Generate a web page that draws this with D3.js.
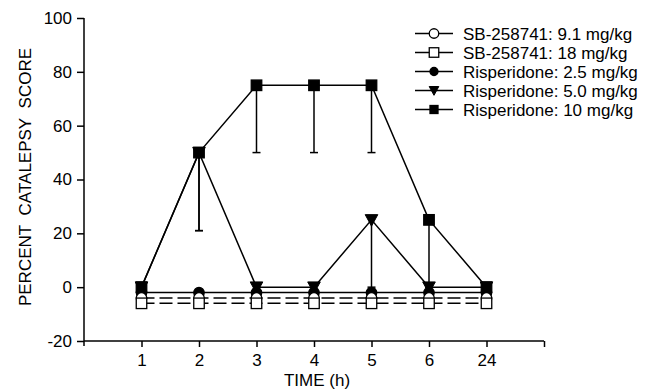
<!DOCTYPE html>
<html>
<head>
<meta charset="utf-8">
<script src="https://cdn.jsdelivr.net/npm/d3@7"></script>
<style>
  body { margin: 0; background: #fff; }
  text { font-family: Arial, "Liberation Sans", sans-serif; fill: #000; }
</style>
</head>
<body>
<div id="chart"></div>
<script>
// time points (categorical)
const times = ["1", "2", "3", "4", "5", "6", "24"];
const yTicks = [-20, 0, 20, 40, 60, 80, 100];

// plotted values (SB groups offset below zero in the original for visibility)
const sb91 = [-4, -4, -4, -4, -4, -4, -4];
const sb18 = [-6, -6, -6, -6, -6, -6, -6];
const ris25 = [-2, -2, -2, -2, -2, -2, -2];
const ris50 = [0, 50, 0, 0, 25, 0, 0];
const ris50Low = [null, 21, null, null, 0, null, null];
const ris10 = [0, 50, 75, 75, 75, 25, 0];
const ris10Low = [null, 21, 50, 50, 50, 0, null];

const series = [
  { name: "SB-258741: 9.1 mg/kg", values: sb91, low: null, marker: "circle", fill: "#fff", dash: "13,5" },
  { name: "SB-258741: 18 mg/kg", values: sb18, low: null, marker: "square", fill: "#fff", dash: "13,5" },
  { name: "Risperidone: 2.5 mg/kg", values: ris25, low: null, marker: "circle", fill: "#000", dash: null },
  { name: "Risperidone: 5.0 mg/kg", values: ris50, low: ris50Low, marker: "triangle", fill: "#000", dash: null },
  { name: "Risperidone: 10 mg/kg", values: ris10, low: ris10Low, marker: "square", fill: "#000", dash: null }
];
// paint order: filled groups underneath, open square on top
const drawOrder = [4, 3, 2, 0, 1];

const width = 651, height = 391;
const svg = d3.select("#chart").append("svg")
  .attr("width", width).attr("height", height);

const x = d3.scaleLinear().domain([0, 8]).range([84, 544]);
const y = d3.scaleLinear().domain([-20, 100]).range([341, 18]);

// axes
const yAxis = d3.axisLeft(y).tickValues(yTicks).tickSize(7).tickPadding(5).tickFormat(d => String(d));
const gy = svg.append("g").attr("transform", `translate(${x(0)},0)`).call(yAxis);
gy.select(".domain").remove();
gy.append("line").attr("x1", 0).attr("x2", 0).attr("y1", y(100)).attr("y2", y(-20) + 5)
  .attr("stroke", "#000").attr("stroke-width", 1.5);

const xAxis = d3.axisBottom(x).tickValues(d3.range(1, 9)).tickSize(6).tickPadding(7)
  .tickFormat(d => d <= times.length ? times[d - 1] : "");
const gx = svg.append("g").attr("transform", `translate(0,${y(-20)})`).call(xAxis);
gx.select(".domain").remove();
gx.append("line").attr("x1", x(0)).attr("x2", x(8)).attr("y1", 0).attr("y2", 0)
  .attr("stroke", "#000").attr("stroke-width", 1.5);

svg.selectAll(".tick line").attr("stroke", "#000").attr("stroke-width", 1.5);
svg.selectAll(".tick text").style("font-size", "17px").style("font-family", "Arial, 'Liberation Sans', sans-serif");

// axis titles
svg.append("text")
  .attr("transform", `translate(31,177) rotate(-90)`)
  .attr("text-anchor", "middle")
  .style("font-size", "17px")
  .style("word-spacing", "5px")
  .text("PERCENT CATALEPSY SCORE");

svg.append("text")
  .attr("x", 317).attr("y", 386)
  .attr("text-anchor", "middle")
  .style("font-size", "17px")
  .text("TIME (h)");

function drawMarker(g, type, fill, cx, cy, s) {
  if (type === "circle") {
    g.append("circle").attr("cx", cx).attr("cy", cy).attr("r", 5 * s)
      .attr("fill", fill).attr("stroke", "#000").attr("stroke-width", 1.3);
  } else if (type === "square") {
    g.append("rect").attr("x", cx - 5 * s).attr("y", cy - 5 * s).attr("width", 10 * s).attr("height", 10 * s)
      .attr("fill", fill).attr("stroke", "#000").attr("stroke-width", 1.3);
  } else {
    g.append("path").attr("d", `M${cx - 6 * s},${cy - 5 * s}L${cx + 6 * s},${cy - 5 * s}L${cx},${cy + 6 * s}Z`)
      .attr("fill", fill).attr("stroke", "#000").attr("stroke-width", 1);
  }
}

const line = d3.line().x((d, i) => x(i + 1)).y(d => y(d));

drawOrder.map(k => series[k]).forEach(s => {
  const g = svg.append("g");
  // error bars (lower only)
  if (s.low) {
    s.values.forEach((v, i) => {
      const lo = s.low[i];
      if (lo === null) return;
      g.append("line").attr("x1", x(i + 1)).attr("x2", x(i + 1))
        .attr("y1", y(v)).attr("y2", y(lo)).attr("stroke", "#000").attr("stroke-width", 1.5);
      g.append("line").attr("x1", x(i + 1) - 4).attr("x2", x(i + 1) + 4)
        .attr("y1", y(lo)).attr("y2", y(lo)).attr("stroke", "#000").attr("stroke-width", 1.5);
    });
  }
  g.append("path").datum(s.values).attr("d", line)
    .attr("fill", "none").attr("stroke", "#000").attr("stroke-width", 1.5)
    .attr("stroke-dasharray", s.dash);
  s.values.forEach((v, i) => drawMarker(g, s.marker, s.fill, x(i + 1), y(v), 1.05));
});

// legend
const legend = svg.append("g");
series.forEach((s, i) => {
  const ly = 33.5 + i * 19;
  legend.append("line").attr("x1", 415).attr("x2", 453).attr("y1", ly).attr("y2", ly)
    .attr("stroke", "#000").attr("stroke-width", 1.5);
  drawMarker(legend, s.marker, s.fill, 434, ly, s.fill === "#fff" ? 0.95 : 0.8);
  legend.append("text").attr("x", 463).attr("y", ly + 6)
    .style("font-size", "17px").text(s.name);
});
</script>
</body>
</html>
